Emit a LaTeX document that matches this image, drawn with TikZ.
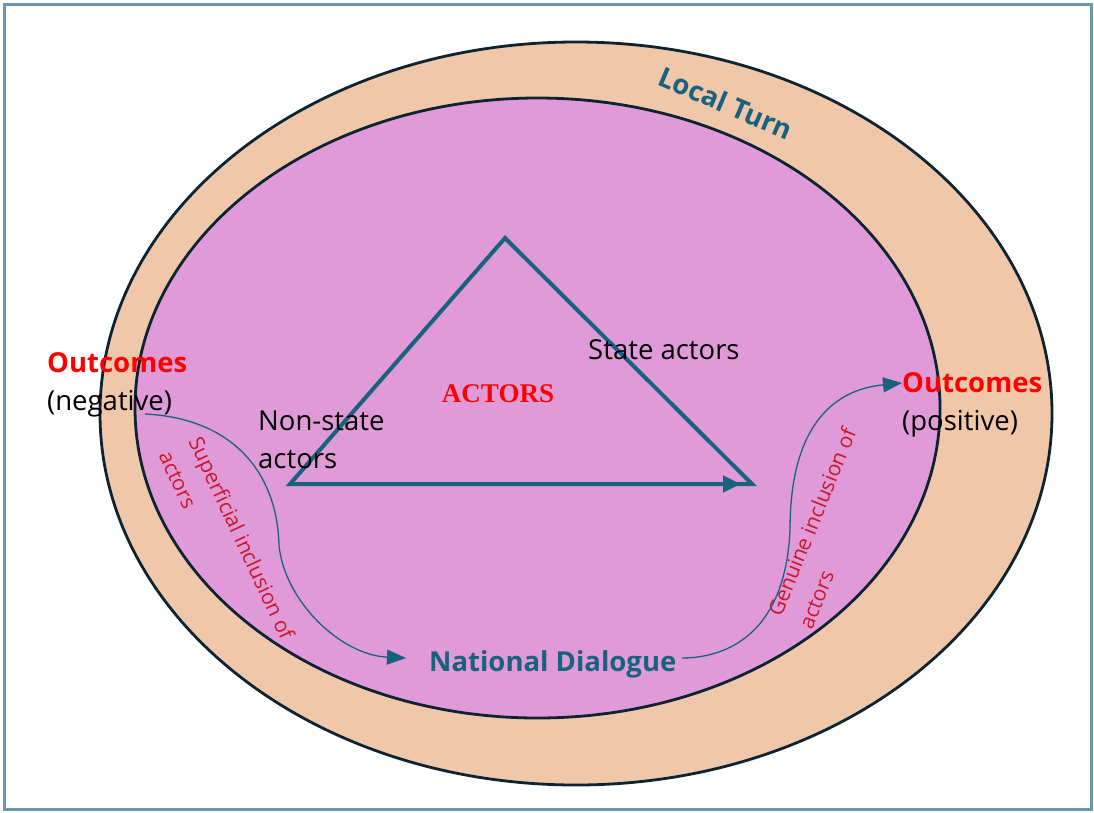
\documentclass[tikz,border=0pt]{standalone}
\usepackage{fontspec}
\setmainfont{Open Sans}
\newfontfamily\timesfont{Liberation Serif}
\usetikzlibrary{arrows.meta}
\definecolor{framecol}{RGB}{104,152,176}
\definecolor{peach}{RGB}{241,199,170}
\definecolor{pinkfill}{RGB}{224,154,216}
\definecolor{ringline}{RGB}{12,36,50}
\definecolor{tealc}{RGB}{24,98,128}
\definecolor{labred}{RGB}{204,22,40}
\definecolor{purered}{RGB}{255,0,0}
\tikzset{
  ringstyle/.style={draw=ringline, line width=2.8pt},
  txt/.style={inner sep=0pt, font=\fontsize{27.5}{33}\selectfont},
  boldtxt/.style={inner sep=0pt, font=\fontsize{27.5}{33}\selectfont\bfseries},
  curvelab/.style={inner sep=0pt, text=labred, align=left, font=\fontsize{21}{33}\selectfont},
  triline/.style={draw=tealc, line width=4pt, line join=miter},
  flow/.style={draw=tealc, line width=1.3pt, -{Triangle[length=19pt,width=15pt]}}
}
\begin{document}
\begin{tikzpicture}[x=1pt,y=-1pt]
\useasboundingbox (0,0) rectangle (1094,812);
\draw[framecol, line width=3pt] (4,4) rectangle (1091,809);
% ellipses
\path[ringstyle, fill=peach] (576,413.5) ellipse [x radius=476, y radius=371.5];
\path[ringstyle, fill=pinkfill] (537.5,408) ellipse [x radius=402.5, y radius=310];
% Local Turn
\node[boldtxt, text=tealc, rotate=-23] (lt) at (726,103) {Local Turn};
% triangle
\coordinate (L) at (290,484);
\coordinate (A) at (505,238);
\coordinate (R) at (752,484);
\coordinate (Rt) at (741,484);
\draw[triline] (R) -- (L) -- (A) -- cycle;
\draw[triline, -{Triangle[length=18pt,width=16pt]}] (L) -- (Rt);
% texts
\node[boldtxt, text=purered, anchor=base west] (outl) at (47,372) {Outcomes};
\node[txt, anchor=base west] (neg) at (47,410) {(negative)};
\node[boldtxt, text=purered, anchor=base west] (outr) at (902,392) {Outcomes};
\node[txt, anchor=base west] (pos) at (902,430) {(positive)};
\node[txt, anchor=base west] (sa) at (588,359) {State actors};
\node[txt, anchor=base west] (ns1) at (258,430) {Non-state};
\node[txt, anchor=base west] (ns2) at (258,468) {actors};
\node[inner sep=0pt, text=purered, font=\timesfont\fontsize{27}{32}\selectfont\bfseries] (act) at (498,394) {ACTORS};
\node[boldtxt, text=tealc, anchor=base west] (nd) at (429,671) {National Dialogue};
% curved labels
\node[curvelab, rotate=-65] (sup) at (227,545) {Superficial inclusion of\\actors};
\node[curvelab, rotate=68] (gen) at (827,528) {Genuine inclusion of\\actors};
% flows
\coordinate (s1) at (145,414);
\coordinate (e1) at (406,658);
\coordinate (s2) at (682,658);
\coordinate (e2) at (902,383);
\draw[flow] (s1) .. controls (230,418) and (277,470) .. (279,545) .. controls (284,600) and (340,655) .. (e1);
\draw[flow] (s2) .. controls (720,658) and (785,640) .. (790,530) .. controls (790,430) and (830,390) .. (e2);
\end{tikzpicture}
\end{document}
